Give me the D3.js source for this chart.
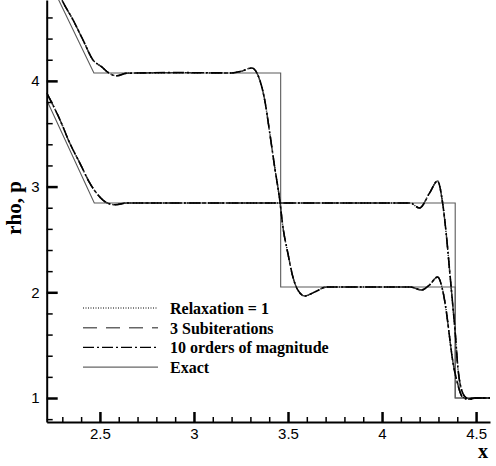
<!DOCTYPE html>
<html>
<head>
<meta charset="utf-8">
<script src="https://cdn.jsdelivr.net/npm/d3@7"></script>
<style>
  body { margin: 0; background: #fff; }
  svg { display: block; }
  .tick text { font-family: "Liberation Sans", Arial, sans-serif; font-size: 15px; }
</style>
</head>
<body>
<svg id="chart" width="496" height="466"></svg>
<script>
// legend entries
const seriesNames = ["Relaxation = 1", "3 Subiterations", "10 orders of magnitude", "Exact"];

// tick values
const xTicks = [2.5, 3, 3.5, 4, 4.5];
const yTicks = [1, 2, 3, 4];

// exact solution, density and pressure
const rhoExact = [[2.217, 5.0], [2.468, 4.075], [3.461, 4.075], [3.461, 2.05], [4.389, 2.05], [4.389, 1.0], [4.574, 1.0]];
const pExact = [[2.217, 3.82], [2.47, 2.845], [4.389, 2.845], [4.389, 1.0], [4.574, 1.0]];

// numerical density (all three runs lie on top of each other)
const rhoNum = [
  [2.26, 4.92], [2.298, 4.765], [2.357, 4.576], [2.41, 4.387], [2.463, 4.198], [2.511, 4.131],
  [2.543, 4.08], [2.59, 4.048], [2.643, 4.072], [2.9, 4.078], [3.2, 4.075], [3.25, 4.09],
  [3.307, 4.122], [3.35, 4.008], [3.376, 3.82], [3.403, 3.507], [3.429, 3.185], [3.456, 2.873],
  [3.473, 2.618], [3.499, 2.372], [3.526, 2.145], [3.552, 2.022], [3.589, 1.965], [3.642, 2.003],
  [3.706, 2.05], [3.9, 2.05], [4.15, 2.05], [4.21, 2.022], [4.253, 2.07], [4.295, 2.145],
  [4.322, 2.022], [4.343, 1.804], [4.359, 1.577], [4.375, 1.36], [4.401, 1.142], [4.428, 1.009],
  [4.454, 0.99], [4.492, 1.0], [4.574, 1.0]
];

// numerical pressure
const pNum = [
  [2.217, 3.886], [2.288, 3.63], [2.34, 3.41], [2.394, 3.22], [2.447, 3.03], [2.49, 2.92],
  [2.527, 2.857], [2.58, 2.828], [2.643, 2.845], [3.0, 2.845], [3.5, 2.845], [4.15, 2.845],
  [4.199, 2.797], [4.253, 2.94], [4.295, 3.053], [4.322, 2.845], [4.343, 2.523], [4.359, 2.211],
  [4.375, 1.899], [4.391, 1.577], [4.401, 1.331], [4.423, 1.076], [4.449, 1.0], [4.47, 0.99],
  [4.5, 1.0], [4.574, 1.0]
];

const svg = d3.select("#chart");
const plotLeft = 46.7, plotRight = 490, plotTop = 0, plotBottom = 422;

const x = d3.scaleLinear().domain([2.217, 4.574]).range([plotLeft, plotRight]);
const y = d3.scaleLinear().domain([0.773, 4.765]).range([plotBottom, plotTop]);

svg.append("clipPath").attr("id", "clip")
  .append("rect")
    .attr("x", plotLeft).attr("y", plotTop)
    .attr("width", plotRight - plotLeft).attr("height", plotBottom - plotTop);

const line = d3.line().x(d => x(d[0])).y(d => y(d[1]));
const smooth = d3.line().x(d => x(d[0])).y(d => y(d[1])).curve(d3.curveMonotoneX);

const styles = [
  { stroke: "#000", width: 1.4, dash: "1,2" },
  { stroke: "#333", width: 1.4, dash: "14,9" },
  { stroke: "#000", width: 1.6, dash: "11,3,2,3" },
  { stroke: "#5a5a5a", width: 1.1, dash: null }
];

const plot = svg.append("g").attr("clip-path", "url(#clip)");

// exact first, numerical on top
[rhoExact, pExact].forEach(d => {
  plot.append("path")
    .attr("d", line(d))
    .attr("fill", "none")
    .attr("stroke", styles[3].stroke)
    .attr("stroke-width", styles[3].width);
});

[0, 1, 2].forEach(i => {
  [rhoNum, pNum].forEach(d => {
    plot.append("path")
      .attr("d", smooth(d))
      .attr("fill", "none")
      .attr("stroke", styles[i].stroke)
      .attr("stroke-width", styles[i].width)
      .attr("stroke-dasharray", styles[i].dash)
      .attr("stroke-linejoin", "round");
  });
});

// axes
const yMinor = d3.range(0.8, 4.7, 0.2).filter(v => Math.abs(v - Math.round(v)) > 0.01);
const xMinor = d3.range(2.3, 4.55, 0.1).filter(v => Math.abs(v * 2 - Math.round(v * 2)) > 0.01);

svg.append("g")
  .attr("transform", "translate(" + plotLeft + ",0)")
  .call(d3.axisLeft(y).tickValues(yMinor).tickSizeInner(-6).tickSizeOuter(0).tickFormat(""))
  .call(g => g.select(".domain").remove())
  .call(g => g.selectAll(".tick line").attr("stroke-width", 1.5));

svg.append("g")
  .attr("transform", "translate(" + plotLeft + ",0)")
  .call(d3.axisLeft(y).tickValues(yTicks).tickSizeInner(-11).tickSizeOuter(0).tickPadding(7).tickFormat(d3.format("d")))
  .call(g => g.select(".domain").attr("stroke-width", 2))
  .call(g => g.selectAll(".tick line").attr("stroke-width", 2.5));

svg.append("g")
  .attr("transform", "translate(0," + plotBottom + ")")
  .call(d3.axisBottom(x).tickValues(xMinor).tickSizeInner(-5).tickSizeOuter(0).tickFormat(""))
  .call(g => g.select(".domain").remove())
  .call(g => g.selectAll(".tick line").attr("stroke-width", 1.5));

svg.append("g")
  .attr("transform", "translate(0," + plotBottom + ")")
  .call(d3.axisBottom(x).tickValues(xTicks).tickSizeInner(-10).tickSizeOuter(0).tickPadding(6).tickFormat(d => d))
  .call(g => g.select(".domain").attr("stroke-width", 2))
  .call(g => g.selectAll(".tick line").attr("stroke-width", 2.5));

// axis titles
svg.append("text")
  .attr("x", 483)
  .attr("y", 458)
  .style("font-family", "'Liberation Serif', 'Times New Roman', serif")
  .style("font-weight", "bold")
  .style("font-size", "20px")
  .style("text-anchor", "middle")
  .text("x");

svg.append("text")
  .attr("transform", "translate(21,208) rotate(-90)")
  .style("font-family", "'Liberation Serif', 'Times New Roman', serif")
  .style("font-weight", "bold")
  .style("font-size", "21px")
  .style("text-anchor", "middle")
  .text("rho, p");

// legend
const legend = svg.append("g");
seriesNames.forEach((name, i) => {
  const ly = 308 + i * 19.7;
  legend.append("line")
    .attr("x1", 83).attr("x2", 158)
    .attr("y1", ly).attr("y2", ly)
    .attr("stroke", i === 0 ? "#000" : (i === 2 ? "#000" : "#666"))
    .attr("stroke-width", i === 0 ? 1 : 1.4)
    .attr("stroke-dasharray", i === 0 ? "1,1.5" : styles[i].dash);
  legend.append("text")
    .attr("x", 170)
    .attr("y", ly + 6)
    .style("font-family", "'Liberation Serif', 'Times New Roman', serif")
    .style("font-weight", "bold")
    .style("font-size", "16px")
    .text(name);
});
</script>
</body>
</html>
